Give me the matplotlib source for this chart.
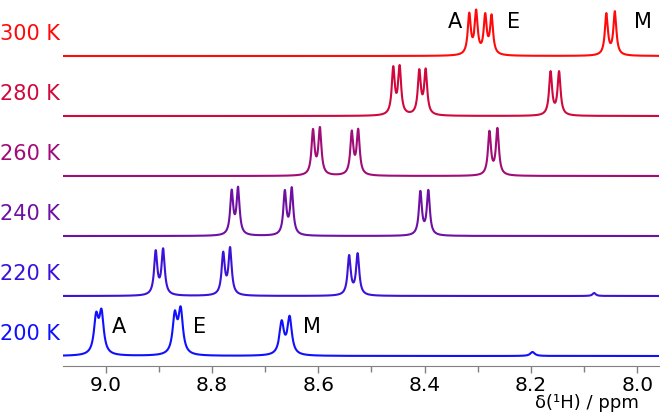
import numpy as np
import matplotlib
matplotlib.use('Agg')
import matplotlib.pyplot as plt
import matplotlib.transforms as mtransforms

# Temperaturas y colores
temperaturas = ['200 K', '220 K', '240 K', '260 K', '280 K', '300 K']
colores = ['#1010ff', '#3c12d8', '#6e10a4', '#a00c78', '#d0083c', '#ff0a0a']

# Posiciones de los picos (ppm) y alturas para cada temperatura
picos_200 = [9.018, 9.008, 8.870, 8.859, 8.669, 8.654, 8.197]
alturas_200 = [36, 40, 38, 43, 32, 37, 4]
picos_220 = [8.906, 8.892, 8.779, 8.766, 8.542, 8.526, 8.081]
alturas_220 = [43, 45, 41, 46, 39, 41, 3]
picos_240 = [8.763, 8.751, 8.663, 8.650, 8.408, 8.393]
alturas_240 = [43, 46, 43, 46, 43, 44]
picos_260 = [8.610, 8.597, 8.537, 8.525, 8.278, 8.263]
alturas_260 = [44, 46, 42, 44, 43, 46]
picos_280 = [8.459, 8.447, 8.410, 8.398, 8.163, 8.147]
alturas_280 = [46, 47, 43, 44, 43, 43]
picos_300 = [8.316, 8.303, 8.286, 8.274, 8.058, 8.042]
alturas_300 = [40, 42, 38, 38, 41, 43]
anchos = [0.005, 0.0036, 0.0034, 0.0034, 0.0034, 0.0034]

picos = [picos_200, picos_220, picos_240, picos_260, picos_280, picos_300]
alturas = [alturas_200, alturas_220, alturas_240, alturas_260, alturas_280, alturas_300]

ppm = np.linspace(7.95, 9.09, 4000)


def espectro(posiciones, alturas_picos, w):
    y = np.zeros_like(ppm)
    for p, h in zip(posiciones, alturas_picos):
        y += h * w**2 / ((ppm - p)**2 + w**2)
    return y


fig = plt.figure(figsize=(6.61, 4.2), dpi=100)
ax = fig.add_axes([62.7 / 661, 54 / 420, 596.3 / 661, 366 / 420])

separacion = 60
base = 10
for i in range(len(temperaturas)):
    y = espectro(picos[i], alturas[i], anchos[i]) + base + separacion * i
    ax.plot(ppm, y, color=colores[i], lw=1.5)

trans = mtransforms.blended_transform_factory(ax.transAxes, ax.transData)
for i, t in enumerate(temperaturas):
    ax.text(-0.004, base + separacion * i + 22, t, color=colores[i],
            fontsize=15, ha='right', va='center', transform=trans)

# Etiquetas de las senales
ax.text(8.343, 344, 'A', fontsize=15, ha='center', va='center')
ax.text(8.232, 344, 'E', fontsize=15, ha='center', va='center')
ax.text(7.990, 344, 'M', fontsize=15, ha='center', va='center')
ax.text(8.975, 39, 'A', fontsize=15, ha='center', va='center')
ax.text(8.823, 39, 'E', fontsize=15, ha='center', va='center')
ax.text(8.612, 39, 'M', fontsize=15, ha='center', va='center')

ax.set_xlim(9.081, 7.959)
ax.set_ylim(0, 366)
ax.set_xticks([9.0, 8.8, 8.6, 8.4, 8.2, 8.0])
ax.set_xticks(np.arange(8.1, 9.05, 0.2), minor=True)
ax.set_xticklabels(['9.0', '8.8', '8.6', '8.4', '8.2', '8.0'])
ax.tick_params(axis='x', which='major', length=5, width=1, color='#808080',
               labelsize=14.5, pad=2)
ax.tick_params(axis='x', which='minor', length=4, width=1, color='#808080')
ax.set_yticks([])
for lado in ['top', 'left', 'right']:
    ax.spines[lado].set_visible(False)
ax.spines['bottom'].set_color('#808080')
ax.patch.set_alpha(0)

ax.text(0.879, -0.102, 'δ(¹H) / ppm', fontsize=13, ha='center', va='center',
        transform=ax.transAxes)

plt.savefig('out.png', dpi=100)
